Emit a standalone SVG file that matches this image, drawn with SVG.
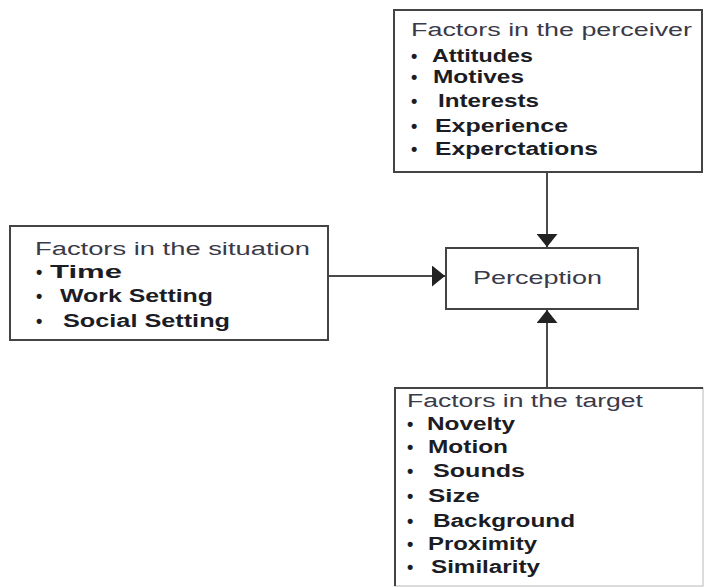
<svg xmlns="http://www.w3.org/2000/svg" width="704" height="587" viewBox="0 0 704 587">
  <style>
    .box { fill: #ffffff; stroke: #444444; stroke-width: 2; }
    .edge { fill: none; stroke: #4a4a4a; stroke-width: 2; }
    .title { font-family: "Liberation Sans", Arial, sans-serif; font-size: 18px; fill: #3a3a48; }
    .item { font-family: "Liberation Sans", Arial, sans-serif; font-size: 18px; font-weight: bold; fill: #1c1c24; }
    .bul { font-family: "Liberation Sans", Arial, sans-serif; font-size: 18px; font-weight: bold; fill: #1c1c24; }
    .main { font-family: "Liberation Sans", Arial, sans-serif; font-size: 19px; fill: #3a3a48; }
  </style>
  <defs>
    <marker id="arrow" viewBox="0 0 13 21" refX="13" refY="10.5" markerWidth="13" markerHeight="21" markerUnits="userSpaceOnUse" orient="auto">
      <path d="M0,0 L13,10.5 L0,21 z" fill="#222222"/>
    </marker>
  </defs>
  <rect width="704" height="587" fill="#ffffff"/>

  <g id="connectors">
    <line class="edge" x1="547" y1="172" x2="547" y2="247" marker-end="url(#arrow)"/>
    <line class="edge" x1="328" y1="276" x2="445" y2="276" marker-end="url(#arrow)"/>
    <line class="edge" x1="547" y1="388" x2="547" y2="310" marker-end="url(#arrow)"/>
  </g>

  <g id="perceiver">
    <rect class="box" x="394" y="10" width="308" height="162"/>
    <text class="title" x="411" y="36" textLength="281" lengthAdjust="spacingAndGlyphs">Factors in the perceiver</text>
    <text class="bul" x="411" y="62">•</text>
    <text class="item" x="432" y="62" textLength="101" lengthAdjust="spacingAndGlyphs">Attitudes</text>
    <text class="bul" x="411" y="83">•</text>
    <text class="item" x="433" y="83" textLength="91" lengthAdjust="spacingAndGlyphs">Motives</text>
    <text class="bul" x="411" y="107">•</text>
    <text class="item" x="438" y="107" textLength="101" lengthAdjust="spacingAndGlyphs">Interests</text>
    <text class="bul" x="411" y="132">•</text>
    <text class="item" x="435" y="132" textLength="133" lengthAdjust="spacingAndGlyphs">Experience</text>
    <text class="bul" x="411" y="155">•</text>
    <text class="item" x="435" y="155" textLength="163" lengthAdjust="spacingAndGlyphs">Experctations</text>
  </g>

  <g id="situation">
    <rect class="box" x="10" y="226" width="318" height="114"/>
    <text class="title" x="35" y="255" textLength="275" lengthAdjust="spacingAndGlyphs">Factors in the situation</text>
    <text class="bul" x="36" y="278">•</text>
    <text class="item" x="50" y="278" textLength="72" lengthAdjust="spacingAndGlyphs">Time</text>
    <text class="bul" x="36" y="302">•</text>
    <text class="item" x="60" y="302" textLength="153" lengthAdjust="spacingAndGlyphs">Work Setting</text>
    <text class="bul" x="36" y="327">•</text>
    <text class="item" x="63" y="327" textLength="167" lengthAdjust="spacingAndGlyphs">Social Setting</text>
  </g>

  <g id="perception">
    <rect class="box" x="446" y="248" width="192" height="61"/>
    <text class="main" x="473" y="284" textLength="129" lengthAdjust="spacingAndGlyphs">Perception</text>
  </g>

  <g id="target">
    <rect x="395" y="388" width="308" height="198" fill="#ffffff" stroke="#d0d0d0" stroke-width="1.5"/>
    <path d="M395,586 L395,388 L703,388" fill="none" stroke="#444444" stroke-width="2"/>
    <text class="title" x="407" y="407" textLength="236" lengthAdjust="spacingAndGlyphs">Factors in the target</text>
    <text class="bul" x="407" y="430">•</text>
    <text class="item" x="427" y="430" textLength="88" lengthAdjust="spacingAndGlyphs">Novelty</text>
    <text class="bul" x="407" y="453">•</text>
    <text class="item" x="428" y="453" textLength="80" lengthAdjust="spacingAndGlyphs">Motion</text>
    <text class="bul" x="407" y="477">•</text>
    <text class="item" x="433" y="477" textLength="92" lengthAdjust="spacingAndGlyphs">Sounds</text>
    <text class="bul" x="407" y="502">•</text>
    <text class="item" x="428" y="502" textLength="52" lengthAdjust="spacingAndGlyphs">Size</text>
    <text class="bul" x="407" y="527">•</text>
    <text class="item" x="433" y="527" textLength="142" lengthAdjust="spacingAndGlyphs">Background</text>
    <text class="bul" x="407" y="550">•</text>
    <text class="item" x="428" y="550" textLength="109" lengthAdjust="spacingAndGlyphs">Proximity</text>
    <text class="bul" x="407" y="573">•</text>
    <text class="item" x="431" y="573" textLength="109" lengthAdjust="spacingAndGlyphs">Similarity</text>
  </g>
</svg>
